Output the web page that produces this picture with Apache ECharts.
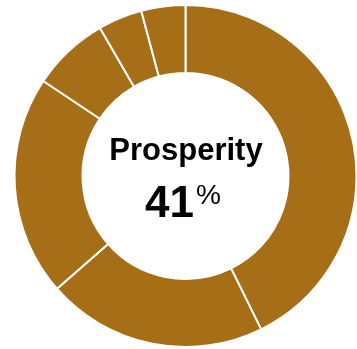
<!DOCTYPE html>
<html>
<head>
<meta charset="utf-8">
<script src="https://cdn.jsdelivr.net/npm/echarts@6/dist/echarts.min.js"></script>
<style>
  html, body { margin: 0; padding: 0; background: #ffffff; }
  #chart { width: 357px; height: 349px; }
</style>
</head>
<body>
<div id="chart"></div>
<script>
// Segment names and shares (first segment is the headline figure)
var categories = ['Prosperity', 'Segment B', 'Segment C', 'Segment D', 'Segment E', 'Segment F'];
var values = [41, 20, 20, 7, 4, 4];
var headline = 'Prosperity';

var chart = echarts.init(document.getElementById('chart'), null, { renderer: 'canvas' });

var data = categories.map(function (name, i) {
  return { name: name, value: values[i] };
});

var option = {
  animation: false,
  backgroundColor: '#ffffff',
  color: ['#A66F17'],
  series: [{
    type: 'pie',
    center: [185.5, 176],
    radius: [103, 171],
    startAngle: 90,
    clockwise: true,
    silent: true,
    label: { show: false },
    labelLine: { show: false },
    itemStyle: {
      color: '#A66F17',
      borderColor: '#ffffff',
      borderWidth: 2
    },
    emphasis: { disabled: true },
    data: data
  }],
  graphic: [
    {
      type: 'text',
      style: {
        text: headline,
        x: 186,
        y: 151,
        align: 'center',
        verticalAlign: 'middle',
        font: 'bold 31px "Liberation Sans", Arial, sans-serif',
        fill: '#000000'
      }
    },
    {
      type: 'text',
      style: {
        text: String(values[0]),
        x: 194,
        y: 205,
        align: 'right',
        verticalAlign: 'middle',
        font: 'bold 44px "Liberation Sans", Arial, sans-serif',
        fill: '#000000'
      }
    },
    {
      type: 'text',
      style: {
        text: '%',
        x: 196,
        y: 196,
        align: 'left',
        verticalAlign: 'middle',
        font: '28px "Liberation Sans", Arial, sans-serif',
        fill: '#000000'
      }
    }
  ]
};

chart.setOption(option);
</script>
</body>
</html>
